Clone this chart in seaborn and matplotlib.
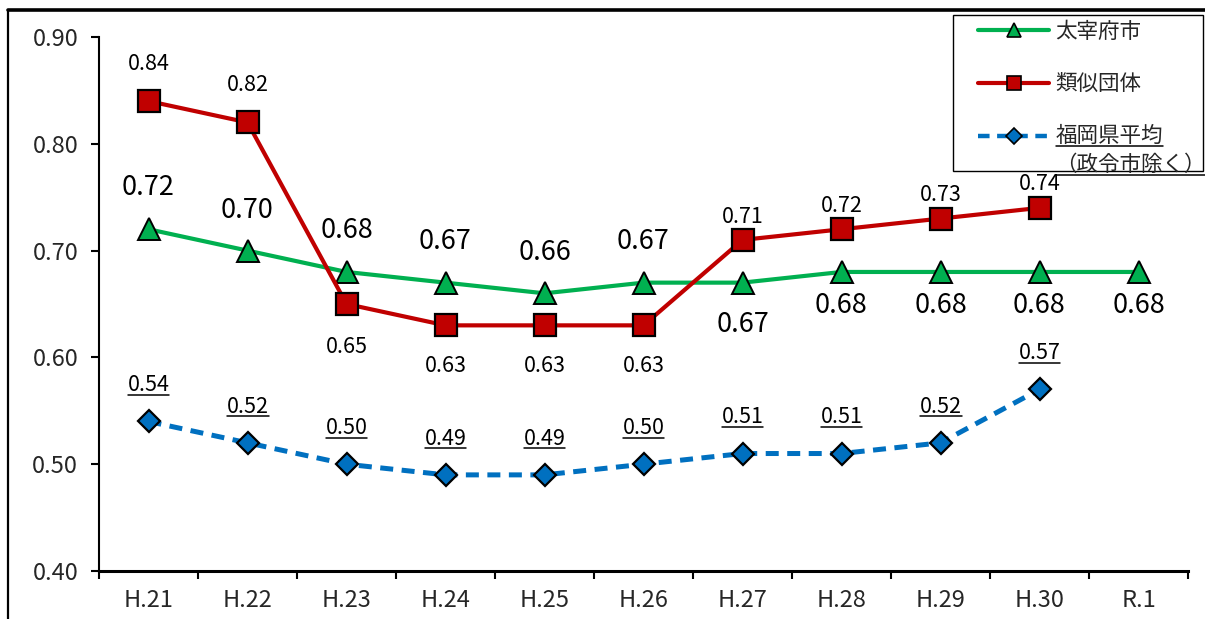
import numpy as np
import pandas as pd
import matplotlib
matplotlib.use("Agg")
import matplotlib.pyplot as plt
import seaborn as sns
from matplotlib.lines import Line2D
from matplotlib.patches import Rectangle
from matplotlib.legend_handler import HandlerLine2D
from matplotlib.transforms import IdentityTransform

# ---- data -------------------------------------------------------------
years = ["H.21", "H.22", "H.23", "H.24", "H.25", "H.26",
         "H.27", "H.28", "H.29", "H.30", "R.1"]
dazaifu = [0.72, 0.70, 0.68, 0.67, 0.66, 0.67, 0.67, 0.68, 0.68, 0.68, 0.68]
ruiji = [0.84, 0.82, 0.65, 0.63, 0.63, 0.63, 0.71, 0.72, 0.73, 0.74]
fukuoka = [0.54, 0.52, 0.50, 0.49, 0.49, 0.50, 0.51, 0.51, 0.52, 0.57]
yticks = [0.40, 0.50, 0.60, 0.70, 0.80, 0.90]
series_names = ["太宰府市", "類似団体", "福岡県平均\n（政令市除く）"]

# ---- label layout (vertical offset of each value label, in points) ----
dazaifu_label_dy = [30, 29, 29.5, 29.5, 29.5, 29.5, -30, -24.5, -24.5, -24.5, -24.5]
ruiji_label_dy = [27, 27, -31, -29, -29, -29, 16.5, 17, 17, 17]
fukuoka_label_dy = 26

GREEN = "#00B050"
RED = "#C00000"
BLUE = "#0070C0"

sns.set_theme(style="white")
plt.rcParams["font.family"] = ["Noto Sans CJK JP", "DejaVu Sans"]

W, H = 1205, 619
fig = plt.figure(figsize=(W / 100, H / 100), dpi=100)
fig.patch.set_facecolor("white")
ax = fig.add_axes([99 / W, 48 / H, 1089 / W, 534 / H])

x_all = np.arange(len(years))
df_d = pd.DataFrame({"x": x_all, "v": dazaifu})
df_r = pd.DataFrame({"x": x_all[:len(ruiji)], "v": ruiji})
df_f = pd.DataFrame({"x": x_all[:len(fukuoka)], "v": fukuoka})

sns.lineplot(data=df_f, x="x", y="v", ax=ax, color=BLUE, lw=3.6,
             linestyle="--", marker="D", markersize=11.5,
             markerfacecolor=BLUE, markeredgecolor="black",
             markeredgewidth=1.6, sort=False, legend=False, zorder=3)
ax.lines[-1].set_dashes([2.6, 1.7])
sns.lineplot(data=df_d, x="x", y="v", ax=ax, color=GREEN, lw=3.0,
             marker="^", markersize=15.5, markerfacecolor=GREEN,
             markeredgecolor="black", markeredgewidth=1.4,
             sort=False, legend=False, zorder=4)
sns.lineplot(data=df_r, x="x", y="v", ax=ax, color=RED, lw=3.0,
             marker="s", markersize=15.5, markerfacecolor=RED,
             markeredgecolor="black", markeredgewidth=1.6,
             sort=False, legend=False, zorder=5)

# ---- value labels ------------------------------------------------------
for i, v in enumerate(dazaifu):
    ax.annotate(f"{v:.2f}", (x_all[i], v), xytext=(0, dazaifu_label_dy[i]),
                textcoords="offset points", ha="center", va="center",
                fontsize=19.5, color="black", zorder=6)
for i, v in enumerate(ruiji):
    ax.annotate(f"{v:.2f}", (x_all[i], v), xytext=(0, ruiji_label_dy[i]),
                textcoords="offset points", ha="center", va="center",
                fontsize=15.5, color="black", zorder=6)
blue_labels = []
for i, v in enumerate(fukuoka):
    t = ax.annotate(f"{v:.2f}", (x_all[i], v), xytext=(0, fukuoka_label_dy),
                    textcoords="offset points", ha="center", va="center",
                    fontsize=15.5, color="black", zorder=6)
    blue_labels.append(t)

# ---- axes --------------------------------------------------------------
ax.set_xlim(-0.5, len(years) - 0.5)
ax.set_ylim(0.40, 0.90)
ax.set_yticks(yticks)
ax.set_yticklabels([f"{t:.2f}" for t in yticks], fontsize=17)
ax.set_xticks(x_all)
ax.set_xticklabels(years, fontsize=17)
ax.set_xticks(np.arange(-0.5, len(years), 1.0), minor=True)
ax.set_xlabel("")
ax.set_ylabel("")
ax.tick_params(axis="x", which="major", length=0, pad=13)
ax.tick_params(axis="x", which="minor", length=6, width=1.5,
               direction="out", color="black", bottom=True)
ax.tick_params(axis="y", length=6, width=1.5, direction="out",
               color="black", pad=9, left=True)
for s in ["top", "right"]:
    ax.spines[s].set_visible(False)
ax.spines["left"].set_linewidth(1.5)
ax.spines["bottom"].set_linewidth(2.2)
for s in ["left", "bottom"]:
    ax.spines[s].set_color("black")
ax.grid(False)
ax.set_facecolor("white")

# ---- outer chart frame -------------------------------------------------
fig.add_artist(Line2D([8 / W, 1.0], [1 - 10 / H, 1 - 10 / H],
                      transform=fig.transFigure, color="black", lw=2.6))
fig.add_artist(Line2D([8 / W, 8 / W], [0.0, 1 - 10 / H],
                      transform=fig.transFigure, color="black", lw=1.6))


# ---- legend -------------------------------------------------------------
class RaisedLineHandler(HandlerLine2D):
    """Line handler whose sample sits level with the first text line."""

    def __init__(self, raise_pt=0.0, **kw):
        super().__init__(**kw)
        self.raise_pt = raise_pt

    def create_artists(self, legend, orig_handle, xdescent, ydescent,
                       width, height, fontsize, trans):
        return super().create_artists(legend, orig_handle, xdescent,
                                      ydescent - 2 * self.raise_pt,
                                      width, height, fontsize, trans)


h_d = Line2D([], [], color=GREEN, lw=3.0, marker="^", markersize=9.5,
             markerfacecolor=GREEN, markeredgecolor="black",
             markeredgewidth=1.2)
h_r = Line2D([], [], color=RED, lw=3.0, marker="s", markersize=9.5,
             markerfacecolor=RED, markeredgecolor="black",
             markeredgewidth=1.2)
h_f = Line2D([], [], color=BLUE, lw=3.2, linestyle="--", dashes=[2.6, 1.7],
             marker="D", markersize=8, markerfacecolor=BLUE,
             markeredgecolor="black", markeredgewidth=1.2)

fig.add_artist(Rectangle((953 / W, 1 - 171 / H), 250 / W, 156 / H,
                         transform=fig.transFigure, facecolor="white",
                         edgecolor="black", lw=1.0, zorder=1))
leg = fig.legend([h_d, h_r, h_f], series_names, loc="upper left",
                 bbox_to_anchor=(978 / W, 1 - 21 / H), frameon=False,
                 fontsize=15.5, handlelength=3.3, handletextpad=0.3,
                 labelspacing=1.4, borderpad=0.0, borderaxespad=0.0,
                 numpoints=1,
                 handler_map={h_f: RaisedLineHandler(raise_pt=11.5)})
leg.set_zorder(2)
leg.get_texts()[2].set_linespacing(1.4)

# ---- underlines --------------------------------------------------------
fig.canvas.draw()
renderer = fig.canvas.get_renderer()
for t in blue_labels:
    bb = t.get_window_extent(renderer)
    y = bb.y0 + 1.5
    fig.add_artist(Line2D([bb.x0, bb.x1], [y, y], transform=IdentityTransform(),
                          color="black", lw=1.1, zorder=6))

ltxt = leg.get_texts()[2]
bb = ltxt.get_window_extent(renderer)
first_line = series_names[2].split("\n")[0]
probe = fig.text(0, 0, first_line, fontsize=15.5)
pb = probe.get_window_extent(renderer)
probe.remove()
line_h = pb.height
for (x0, x1, y) in [(bb.x0, bb.x0 + pb.width, bb.y1 - line_h + 1.5),
                    (bb.x0, bb.x1, bb.y0 + 1.5)]:
    fig.add_artist(Line2D([x0, x1], [y, y], transform=IdentityTransform(),
                          color="black", lw=1.1, zorder=3))

fig.savefig("out.png", dpi=100, facecolor="white")
